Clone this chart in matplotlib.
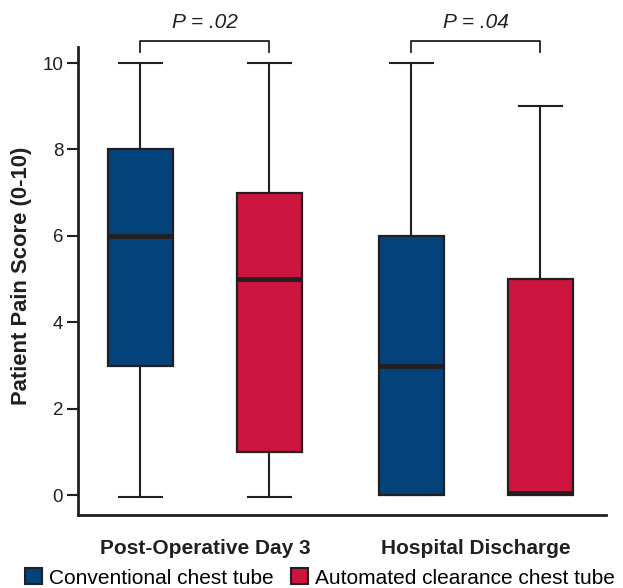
import matplotlib
matplotlib.use("Agg")
import matplotlib.pyplot as plt
from matplotlib.patches import Patch

plt.rcParams['font.family'] = ['Liberation Sans', 'DejaVu Sans']

# box stats
groups = ["Post-Operative Day 3", "Hospital Discharge"]
series = ["Conventional chest tube", "Automated clearance chest tube"]
colors = ["#03427a", "#cc143f"]
whislo = [-0.05, -0.05, 0.0, 0.0]
q1 = [3, 1, 0, 0]
med = [6, 5, 3, 0.05]
q3 = [8, 7, 6, 5]
whishi = [10, 10, 10, 9]
pvals = ["P = .02", "P = .04"]

positions = [1, 2, 3.1, 4.1]

fig = plt.figure(figsize=(6.23, 5.88), dpi=100)
ax = fig.add_axes([0.126, 0.124, 0.847, 0.796])

stats = []
for i in range(4):
    stats.append(dict(whislo=whislo[i], q1=q1[i], med=med[i], q3=q3[i],
                      whishi=whishi[i], fliers=[]))

edge = "#231f20"
bp = ax.bxp(stats, positions=positions, widths=0.5, patch_artist=True,
            showfliers=False, capwidths=0.33,
            boxprops=dict(edgecolor=edge, linewidth=1.6),
            whiskerprops=dict(color=edge, linewidth=1.5),
            capprops=dict(color=edge, linewidth=1.5),
            medianprops=dict(color=edge, linewidth=3.5, solid_capstyle='butt'))
for i, b in enumerate(bp['boxes']):
    b.set_facecolor(colors[i % 2])

# significance brackets
for g in range(2):
    x1, x2 = positions[2 * g], positions[2 * g + 1]
    ax.plot([x1, x1, x2, x2], [10.25, 10.5, 10.5, 10.25], color=edge,
            linewidth=1.3, clip_on=False)
    ax.text((x1 + x2) / 2, 10.72, pvals[g], ha='center', va='bottom',
            fontsize=15, style='italic', color=edge)

ax.set_xlim(0.52, 4.61)
ax.set_ylim(-0.46, 10.37)
ax.set_yticks([0, 2, 4, 6, 8, 10])
ax.tick_params(axis='y', labelsize=13.5, length=8, width=1.5, colors=edge, pad=3)
ax.set_xticks([(positions[0] + positions[1]) / 2, (positions[2] + positions[3]) / 2])
ax.set_xticklabels(groups, fontsize=15, fontweight='bold')
ax.tick_params(axis='x', length=0, pad=17, colors=edge)
ax.set_ylabel("Patient Pain Score (0-10)", fontsize=15.8, fontweight='bold',
              color=edge)
ax.yaxis.set_label_coords(-0.089, 0.511)
for s in ['top', 'right']:
    ax.spines[s].set_visible(False)
for s in ['left', 'bottom']:
    ax.spines[s].set_linewidth(2)
    ax.spines[s].set_color(edge)

handles = [Patch(facecolor=colors[i], edgecolor=edge, linewidth=1.5, label=series[i])
           for i in range(2)]
fig.legend(handles=handles, loc='center', bbox_to_anchor=(0.514, 0.017), ncol=2,
           frameon=False, fontsize=15, handlelength=0.8, handleheight=0.8,
           handletextpad=0.35, columnspacing=0.85, borderpad=0, borderaxespad=0)

fig.savefig("out.png", dpi=100)
